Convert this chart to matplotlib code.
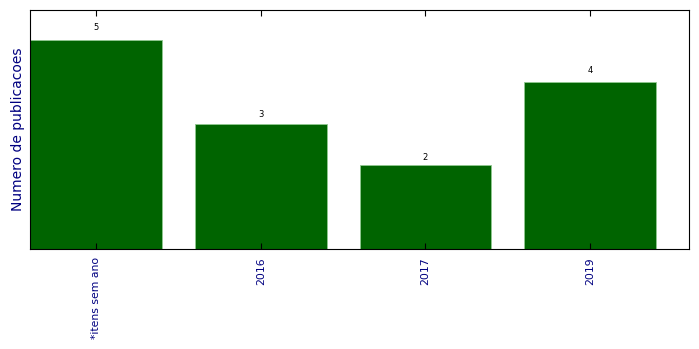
import matplotlib
matplotlib.use('Agg')
import matplotlib.pyplot as plt

categorias = ['*itens sem ano', '2016', '2017', '2019']
publicacoes = [5, 3, 2, 4]

fig = plt.figure(figsize=(6.99, 3.49), dpi=100)
ax = fig.add_axes([0.043, 0.2865, 0.9427, 0.6848])

pos = range(len(categorias))
bars = ax.bar(pos, publicacoes, width=0.8, color='#006400', edgecolor='#90c890', linewidth=0.6)

    # numero em cima de cada barra
for b, v in zip(bars, publicacoes):
    ax.text(b.get_x() + b.get_width() / 2, 1.04 * v, str(v),
            ha='center', va='bottom', fontsize=6)

ax.set_xlim(-0.4, 3.6)
ax.set_ylim(0, 5.72)
ax.set_xticks(list(pos))
ax.set_xticklabels(categorias, rotation=90, color='navy', fontsize=7.8)
ax.set_yticks([])
ax.set_ylabel('Numero de publicacoes', color='navy', fontsize=10)
ax.tick_params(axis='x', direction='in', top=True, length=4, pad=6)

fig.savefig('out.png', dpi=100)
